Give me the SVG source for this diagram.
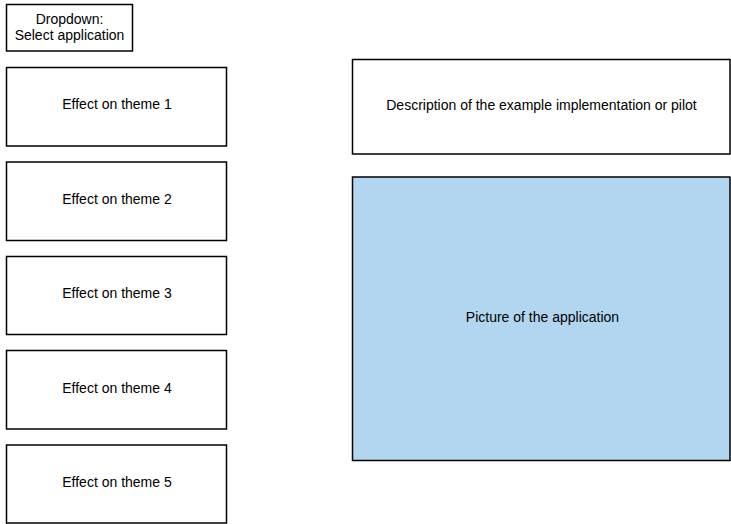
<svg xmlns="http://www.w3.org/2000/svg" width="731" height="524" viewBox="0 0 731 524">
  <style>
    .box { fill: #ffffff; stroke: #000000; stroke-width: 1.5; }
    .pic { fill: #b3d6f0; stroke: #000000; stroke-width: 1.5; }
    .lbl { font-family: "Liberation Sans", Arial, sans-serif; font-size: 14px; fill: #000000; text-anchor: middle; dominant-baseline: central; }
  </style>
  <rect width="731" height="524" fill="#ffffff"/>
  <g id="dropdown">
    <rect class="box" x="6.5" y="4.5" width="126" height="46.5"/>
    <text class="lbl" x="69.5" y="18.5">Dropdown:</text>
    <text class="lbl" x="69.5" y="35">Select application</text>
  </g>
  <g id="theme1">
    <rect class="box" x="6.5" y="67.5" width="220" height="78.5"/>
    <text class="lbl" x="117" y="104">Effect on theme 1</text>
  </g>
  <g id="theme2">
    <rect class="box" x="6.5" y="162" width="220" height="78.5"/>
    <text class="lbl" x="117" y="198.5">Effect on theme 2</text>
  </g>
  <g id="theme3">
    <rect class="box" x="6.5" y="256.5" width="220" height="78"/>
    <text class="lbl" x="117" y="293">Effect on theme 3</text>
  </g>
  <g id="theme4">
    <rect class="box" x="6.5" y="350.5" width="220" height="78.5"/>
    <text class="lbl" x="117" y="387.5">Effect on theme 4</text>
  </g>
  <g id="theme5">
    <rect class="box" x="6.5" y="445" width="220" height="78"/>
    <text class="lbl" x="117" y="482">Effect on theme 5</text>
  </g>
  <g id="description">
    <rect class="box" x="352.5" y="59.5" width="377.5" height="94.5"/>
    <text class="lbl" x="541.5" y="105">Description of the example implementation or pilot</text>
  </g>
  <g id="picture">
    <rect class="pic" x="352.5" y="177" width="377.5" height="283.5"/>
    <text class="lbl" x="542.5" y="317">Picture of the application</text>
  </g>
  <g id="connectors"></g>
</svg>
